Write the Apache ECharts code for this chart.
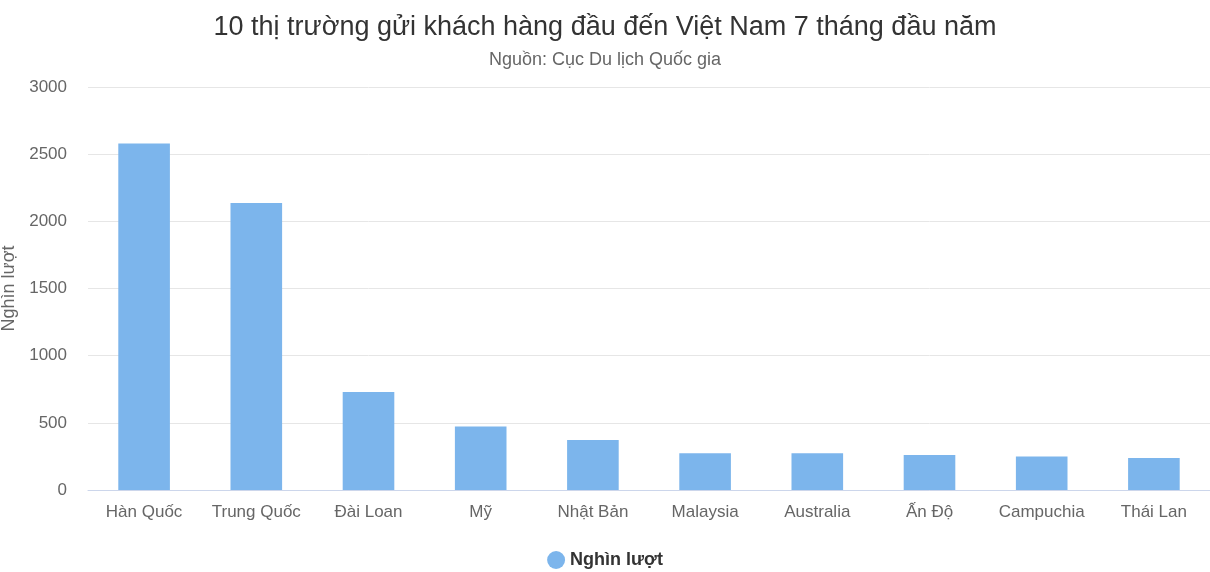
<!DOCTYPE html>
<html><head><meta charset="utf-8">
<script src="https://cdn.jsdelivr.net/npm/echarts@6/dist/echarts.min.js"></script>
<style>html,body{margin:0;padding:0;background:#fff}#c{width:1210px;height:572px}</style>
</head><body><div id="c"></div>
<script>
const categories = ['Hàn Quốc','Trung Quốc','Đài Loan','Mỹ','Nhật Bản','Malaysia','Australia','Ấn Độ','Campuchia','Thái Lan'];
const values = [2580, 2137, 729, 473, 373, 274, 274, 261, 249, 239];
const seriesName = 'Nghìn lượt';
const titleText = '10 thị trường gửi khách hàng đầu đến Việt Nam 7 tháng đầu năm';
const subtitleText = 'Nguồn: Cục Du lịch Quốc gia';

const chart = echarts.init(document.getElementById('c'));
const ff = '"Liberation Sans", Arial, sans-serif';
chart.setOption({
  animation: false,
  textStyle: { fontFamily: ff },
  title: {
    text: titleText, subtext: subtitleText, left: 'center', top: 9, itemGap: 10,
    textStyle: { fontSize: 27, fontWeight: 'normal', color: '#333', fontFamily: ff },
    subtextStyle: { fontSize: 18, color: '#666', fontFamily: ff }
  },
  legend: {
    bottom: -2, left: 'center', icon: 'circle', itemWidth: 18, itemHeight: 18, itemGap: 10,
    textStyle: { fontSize: 18, fontWeight: 'bold', color: '#333', fontFamily: ff },
    data: [seriesName]
  },
  grid: { left: 88, right: 0, top: 87, bottom: 82, containLabel: false, outerBoundsMode: 'none' },
  xAxis: {
    type: 'category', data: categories,
    axisTick: { show: false },
    axisLine: { lineStyle: { color: '#ccd6eb' } },
    axisLabel: { fontSize: 17, color: '#666', margin: 14, interval: 0, fontFamily: ff }
  },
  yAxis: {
    type: 'value', min: 0, max: 3000, interval: 500,
    name: seriesName, nameLocation: 'middle', nameGap: 70, nameRotate: 90, nameMoveOverlap: false,
    nameTextStyle: { fontSize: 18, color: '#666', fontFamily: ff, padding: [4, 0, 0, 0] },
    axisLabel: { fontSize: 17, color: '#666', margin: 21, fontFamily: ff, formatter: v => String(v) },
    splitLine: { lineStyle: { color: '#e6e6e6' } }
  },
  series: [{
    name: seriesName, type: 'bar', data: values, barWidth: '46%',
    itemStyle: { color: '#7cb5ec' }
  }]
});
</script></body></html>
